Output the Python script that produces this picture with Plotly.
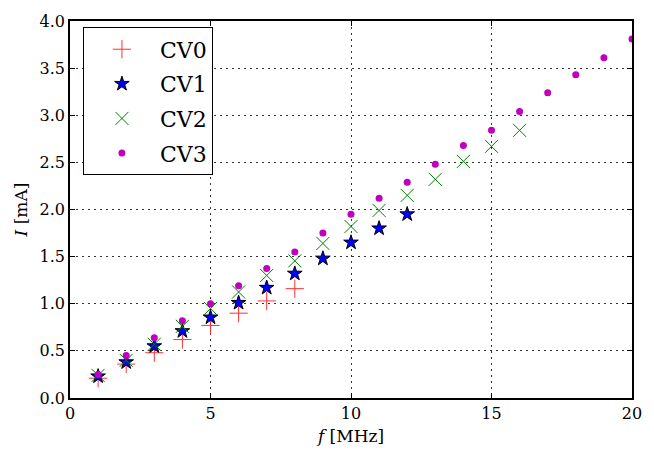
import plotly.graph_objects as go

f0 = [1, 2, 3, 4, 5, 6, 7, 8]
cv0 = [0.21, 0.36, 0.48, 0.62, 0.77, 0.90, 1.03, 1.16]

f1 = [1, 2, 3, 4, 5, 6, 7, 8, 9, 10, 11, 12]
cv1 = [0.23, 0.38, 0.55, 0.71, 0.855, 1.01, 1.17, 1.32, 1.48, 1.65, 1.80, 1.95]

f2 = [1, 2, 3, 4, 5, 6, 7, 8, 9, 10, 11, 12, 13, 14, 15, 16]
cv2 = [0.24, 0.40, 0.57, 0.76, 0.95, 1.125, 1.30, 1.455, 1.64, 1.82, 1.99, 2.15, 2.32, 2.51, 2.67, 2.84]

f3 = list(range(1, 21))
cv3 = [0.25, 0.45, 0.64, 0.82, 1.00, 1.19, 1.375, 1.55, 1.75, 1.95, 2.12, 2.29, 2.48,
       2.68, 2.84, 3.04, 3.24, 3.43, 3.61, 3.81]

xticks = [0, 5, 10, 15, 20]
yticks = [0.0, 0.5, 1.0, 1.5, 2.0, 2.5, 3.0, 3.5, 4.0]

FONT = "DejaVu Serif"

fig = go.Figure()
fig.add_trace(go.Scatter(x=f0, y=cv0, mode="markers", name="CV0", legendgroup="a",
                         marker=dict(symbol="cross-thin", size=13,
                                     line=dict(color="#ff3030", width=1))))
fig.add_trace(go.Scatter(x=f1, y=cv1, mode="markers", name="CV1", legendgroup="b",
                         marker=dict(symbol="star", size=11, color="#0000ff",
                                     line=dict(color="black", width=1))))
fig.add_trace(go.Scatter(x=f2, y=cv2, mode="markers", name="CV2", legendgroup="c",
                         marker=dict(symbol="x-thin", size=13,
                                     line=dict(color="#008000", width=1))))
fig.add_trace(go.Scatter(x=f3, y=cv3, mode="markers", name="CV3", legendgroup="d",
                         marker=dict(symbol="circle", size=7, color="#bf00bf",
                                     line=dict(width=0))))

axis_common = dict(showline=True, linecolor="black", linewidth=1.5, mirror="ticks",
                   ticks="inside", ticklen=5, tickcolor="black",
                   showgrid=True, gridcolor="#333333", griddash="1.5px,4.5px", gridwidth=1.3,
                   zeroline=False, tickfont=dict(family=FONT, size=16, color="black"))

fig.update_xaxes(range=[0, 20], tickvals=xticks, ticktext=[str(v) for v in xticks],
                 title=dict(text="<i>f</i> [MHz]", font=dict(family=FONT, size=17, color="black"),
                            standoff=8),
                 **axis_common)
fig.update_yaxes(range=[0, 4], tickvals=yticks, ticktext=[f"{v:.1f}" for v in yticks],
                 title=dict(text="<i>I</i> [mA]", font=dict(family=FONT, size=17, color="black"),
                            standoff=8),
                 **axis_common)

fig.update_layout(
    width=654, height=456,
    margin=dict(l=70, r=22, t=14, b=58),
    plot_bgcolor="white", paper_bgcolor="white",
    showlegend=True,
    legend=dict(x=0.023, y=0.983, xanchor="left", yanchor="top",
                bordercolor="black", borderwidth=1, bgcolor="white",
                font=dict(family=FONT, size=22, color="black"),
                itemsizing="trace", itemwidth=66, tracegroupgap=3),
)

fig.write_html("out.html", config={"displayModeBar": False},
               post_script="document.body.style.margin='0';document.body.style.overflow='hidden';")
